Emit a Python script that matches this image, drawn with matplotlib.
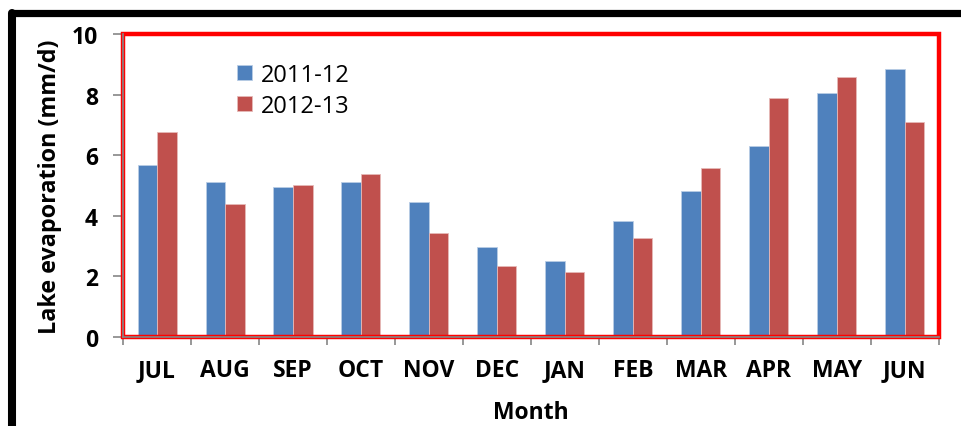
import matplotlib
matplotlib.use("Agg")
import matplotlib.pyplot as plt
import numpy as np
from matplotlib.patches import Rectangle
from matplotlib.lines import Line2D

months = ["JUL", "AUG", "SEP", "OCT", "NOV", "DEC", "JAN", "FEB", "MAR", "APR", "MAY", "JUN"]
evap_2011_12 = [5.68, 5.12, 4.95, 5.12, 4.45, 2.98, 2.51, 3.83, 4.82, 6.31, 8.04, 8.84]
evap_2012_13 = [6.77, 4.39, 5.03, 5.38, 3.42, 2.34, 2.16, 3.26, 5.59, 7.89, 8.59, 7.10]
series_labels = ["2011-12", "2012-13"]
y_ticks = [0, 2, 4, 6, 8, 10]

BLUE = "#4F81BD"
RED = "#C0504D"
GRAY = "#868686"

plt.rcParams["font.family"] = ["Open Sans", "DejaVu Sans"]
plt.rcParams["font.weight"] = "bold"

fig = plt.figure(figsize=(9.62, 4.27), dpi=100)
ax = fig.add_axes([0.1279, 0.2084, 0.848, 0.7096])

x = np.arange(len(months))
w = 0.287
ax.bar(x - w / 2, evap_2011_12, width=w, color=BLUE, edgecolor="#B9CDE5",
       linewidth=0.6, label=series_labels[0], zorder=2)
ax.bar(x + w / 2, evap_2012_13, width=w, color=RED, edgecolor="#E6B9B8",
       linewidth=0.6, label=series_labels[1], zorder=2)

ax.set_xlim(-0.5, len(months) - 0.5)
ax.set_ylim(0, 10)

# tick marks sit on category boundaries, labels at category centres
ax.set_xticks(np.arange(-0.5, len(months)), labels=[""] * (len(months) + 1))
ax.set_xticks(x, labels=months, minor=True)
ax.tick_params(axis="x", which="major", length=6, width=1.2, color=GRAY, direction="out")
ax.tick_params(axis="x", which="minor", length=0, pad=15, labelsize=16.5)
ax.set_yticks(y_ticks)
ax.tick_params(axis="y", length=7, width=1.2, color=GRAY, direction="out", pad=11,
               labelsize=16.5)

for side in ["top", "right"]:
    ax.spines[side].set_visible(False)
for side in ["left", "bottom"]:
    ax.spines[side].set_color(GRAY)
    ax.spines[side].set_linewidth(1.2)
    ax.spines[side].set_zorder(4)

# red box around the plotting area
ax.add_patch(Rectangle((0, 0), 1, 1, transform=ax.transAxes, fill=False,
                       edgecolor="#FF0000", linewidth=3.2, clip_on=False, zorder=3))

ax.set_ylabel("Lake evaporation (mm/d)", fontweight="bold", fontsize=16.8, labelpad=7)
ax.set_xlabel("Month", fontweight="bold", fontsize=16.5, labelpad=13)

leg = ax.legend(loc="upper left", bbox_to_anchor=(0.114, 0.975), frameon=False,
                prop={"size": 17, "weight": "normal"}, handlelength=0.62,
                handleheight=0.62, handletextpad=0.4, labelspacing=0.3)

# black frame along the top and left of the figure
fig.add_artist(Line2D([12 / 962, 1.0], [1 - 13.5 / 427, 1 - 13.5 / 427],
                      transform=fig.transFigure, color="black", linewidth=5.2,
                      solid_capstyle="round"))
fig.add_artist(Line2D([12 / 962, 12 / 962], [1 - 13.5 / 427, 0.0],
                      transform=fig.transFigure, color="black", linewidth=5.8,
                      solid_capstyle="round"))

fig.savefig("out.png", dpi=100)
